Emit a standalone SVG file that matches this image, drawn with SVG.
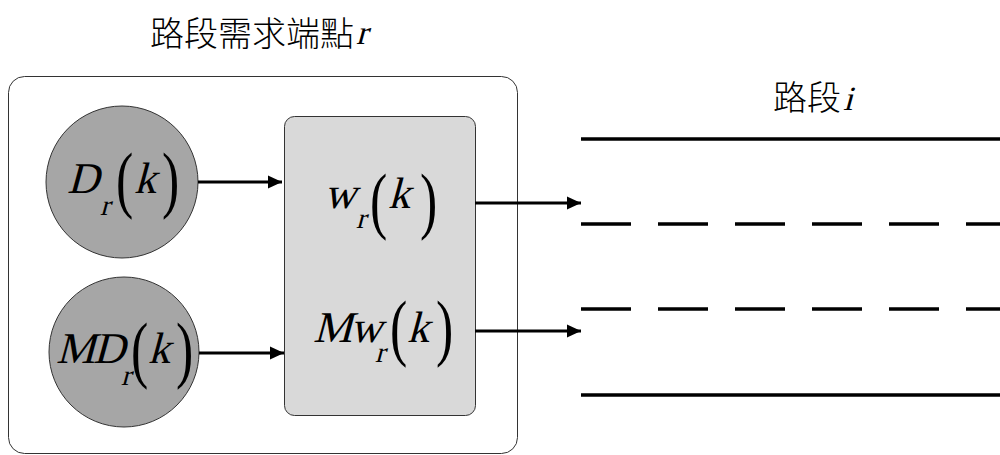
<svg xmlns="http://www.w3.org/2000/svg" width="1000" height="455" viewBox="0 0 1000 455">
<style>
.cjk{font-family:"Noto Sans CJK TC","Noto Sans CJK SC",sans-serif;font-size:34px;font-weight:300;fill:#000}
.m{font-family:"Liberation Serif","DejaVu Serif",serif;font-style:normal;font-weight:400;fill:#000}
.big{font-size:44px}
.sub{font-size:29px}
.t{font-size:34px}
.p{font-family:"Liberation Serif","DejaVu Serif",serif;font-size:74px;fill:#000}
.node{fill:#a6a6a6;stroke:#333;stroke-width:1}
.box{fill:#d9d9d9;stroke:#333;stroke-width:1}
.frame{fill:#fff;stroke:#333;stroke-width:1}
.conn{stroke:#000;stroke-width:3;fill:none;marker-end:url(#ah)}
.road{stroke:#000;stroke-width:3.5;fill:none}
.dash{stroke-dasharray:50 27}
</style>
<defs>
<marker id="ah" markerUnits="userSpaceOnUse" markerWidth="16" markerHeight="16" refX="14" refY="8" orient="auto">
<path d="M0,1.5 L14,8 L0,14.5 z" fill="#000"/>
</marker>
</defs>
<g id="title-r"><text class="cjk" x="150" y="46">路段需求端點</text><text class="m t" transform="translate(356,44) skewX(-15)">r</text></g>
<g id="frame"><rect class="frame" x="8.5" y="76.5" width="509" height="377" rx="16"/></g>
<g id="node-D">
<circle class="node" cx="122" cy="182" r="76"/>
<text class="m big" transform="translate(67,193) skewX(-15)">D</text>
<text class="m sub" transform="translate(100,215) skewX(-15)">r</text>
<text class="p" transform="translate(116,204) scale(0.7,1)">(</text>
<text class="m big" transform="translate(134,193) skewX(-15)">k</text>
<text class="p" transform="translate(162,204) scale(0.7,1)">)</text>
</g>
<g id="node-MD">
<circle class="node" cx="124" cy="352" r="75"/>
<text class="m big" transform="translate(56,363) skewX(-15)" letter-spacing="-2">MD</text>
<text class="m sub" transform="translate(121,385) skewX(-15)">r</text>
<text class="p" transform="translate(131,374) scale(0.7,1)">(</text>
<text class="m big" transform="translate(148,363) skewX(-15)">k</text>
<text class="p" transform="translate(176,374) scale(0.7,1)">)</text>
</g>
<g id="node-w">
<rect class="box" x="284.5" y="116.5" width="191" height="299" rx="10"/>
<text class="m big" transform="translate(324,208) skewX(-15)">w</text>
<text class="m sub" transform="translate(356,228) skewX(-15)">r</text>
<text class="p" transform="translate(370,225) scale(0.7,1)">(</text>
<text class="m big" transform="translate(388,208) skewX(-15)">k</text>
<text class="p" transform="translate(420,225) scale(0.7,1)">)</text>
<text class="m big" transform="translate(313,342) skewX(-15)" letter-spacing="-2">Mw</text>
<text class="m sub" transform="translate(375,362) skewX(-15)">r</text>
<text class="p" transform="translate(390,352) scale(0.7,1)">(</text>
<text class="m big" transform="translate(407,342) skewX(-15)">k</text>
<text class="p" transform="translate(436,352) scale(0.7,1)">)</text>
</g>
<g id="road-i">
<text class="cjk" x="773" y="110">路段</text><text class="m t" transform="translate(843,110) skewX(-15)">i</text>
<line class="road" x1="581" y1="139" x2="1000" y2="139"/>
<line class="road dash" x1="581" y1="224" x2="1000" y2="224"/>
<line class="road dash" x1="581" y1="309" x2="1000" y2="309"/>
<line class="road" x1="581" y1="395" x2="1000" y2="395"/>
</g>
<g id="connectors">
<line class="conn" x1="198" y1="182" x2="282" y2="182"/>
<line class="conn" x1="199" y1="353" x2="284" y2="353"/>
<line class="conn" x1="475" y1="203" x2="581" y2="203"/>
<line class="conn" x1="475" y1="331" x2="581" y2="331"/>
</g>
</svg>
